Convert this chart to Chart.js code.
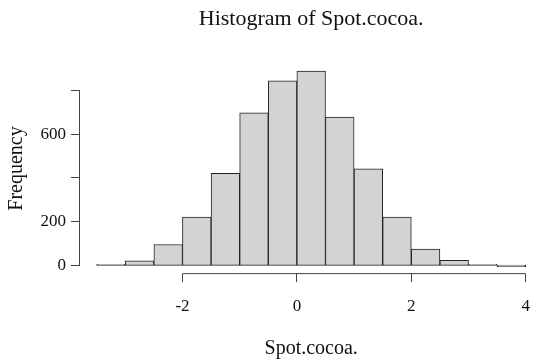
<!DOCTYPE html>
<html>
<head>
<meta charset="utf-8">
<title>Histogram of Spot.cocoa.</title>
<script src="https://cdn.jsdelivr.net/npm/chart.js@4/dist/chart.umd.min.js"></script>
<style>
  html, body { margin: 0; padding: 0; background: #fff; overflow: hidden; }
  #wrap { width: 536px; height: 361px; overflow: hidden; }
</style>
</head>
<body>
<div id="wrap"><canvas id="hist" width="544" height="361"></canvas></div>
<script>
// histogram bins (width 0.5) and their counts
const binCenters = [-3.25, -2.75, -2.25, -1.75, -1.25, -0.75, -0.25, 0.25, 0.75, 1.25, 1.75, 2.25, 2.75, 3.25, 3.75];
const counts = [3, 23, 97, 222, 421, 697, 843, 887, 677, 442, 222, 76, 25, 3, 0];

// axis ticks, R style (some y labels are dropped)
const xTicks = [-2, 0, 2, 4];
const yTicks = [0, 200, 400, 600, 800];
const yTickLabels = ['0', '200', '', '600', ''];

const SERIF = "'Liberation Serif', 'DejaVu Serif', serif";
const INK = '#111';
const AXIS = '#444';

// axis lines only span first..last tick, like base R axis()
const rAxisLines = {
  id: 'rAxisLines',
  afterDraw(chart) {
    const { ctx, chartArea, scales } = chart;
    ctx.save();
    ctx.strokeStyle = AXIS;
    ctx.lineWidth = 1;
    ctx.beginPath();
    ctx.moveTo(chartArea.left, scales.y.getPixelForValue(yTicks[0]));
    ctx.lineTo(chartArea.left, scales.y.getPixelForValue(yTicks[yTicks.length - 1]));
    ctx.moveTo(scales.x.getPixelForValue(xTicks[0]), chartArea.bottom);
    ctx.lineTo(scales.x.getPixelForValue(xTicks[xTicks.length - 1]), chartArea.bottom);
    ctx.stroke();
    ctx.restore();
  }
};

new Chart(document.getElementById('hist'), {
  type: 'bar',
  data: {
    datasets: [{
      data: counts.map((c, i) => ({ x: binCenters[i], y: c })),
      backgroundColor: '#d3d3d3',
      borderColor: '#222',
      borderWidth: 1,
      borderSkipped: false,
      minBarLength: 1.6,
      barPercentage: 1,
      categoryPercentage: 1
    }]
  },
  options: {
    responsive: false,
    devicePixelRatio: 1,
    animation: false,
    layout: { padding: 0 },
    plugins: {
      legend: { display: false },
      tooltip: { enabled: false },
      title: {
        display: true,
        fullSize: false,
        text: 'Histogram of Spot.cocoa.',
        color: INK,
        font: { family: SERIF, size: 22, weight: 'normal', lineHeight: 1.2 },
        padding: { top: 6, bottom: 31 }
      }
    },
    scales: {
      x: {
        type: 'linear',
        offset: false,
        min: -3.8,
        max: 4.3,
        afterBuildTicks: s => { s.ticks = xTicks.map(v => ({ value: v })); },
        afterFit: s => { s.height = 87.4; },
        grid: { display: true, offset: false, drawOnChartArea: false, drawTicks: true, tickLength: 8.6, color: AXIS, lineWidth: 1 },
        border: { display: false },
        ticks: {
          color: INK,
          font: { family: SERIF, size: 17 },
          padding: 14,
          maxRotation: 0,
          callback: v => String(v)
        },
        title: {
          display: true,
          text: 'Spot.cocoa.',
          color: INK,
          font: { family: SERIF, size: 20 },
          padding: { top: 0, bottom: 0 }
        }
      },
      y: {
        min: -35.5,
        max: 922,
        afterBuildTicks: s => { s.ticks = yTicks.map(v => ({ value: v })); },
        afterFit: s => { s.width = 79.5; },
        grid: { display: true, drawOnChartArea: false, drawTicks: true, tickLength: 8.6, color: AXIS, lineWidth: 1 },
        border: { display: false },
        ticks: {
          color: INK,
          font: { family: SERIF, size: 17 },
          padding: 5,
          callback: (v, i) => yTickLabels[yTicks.indexOf(v)] ?? ''
        },
        title: {
          display: true,
          text: 'Frequency',
          color: INK,
          font: { family: SERIF, size: 20 },
          padding: { top: 4.5, bottom: 0 }
        }
      }
    }
  },
  plugins: [rAxisLines]
});
</script>
</body>
</html>
